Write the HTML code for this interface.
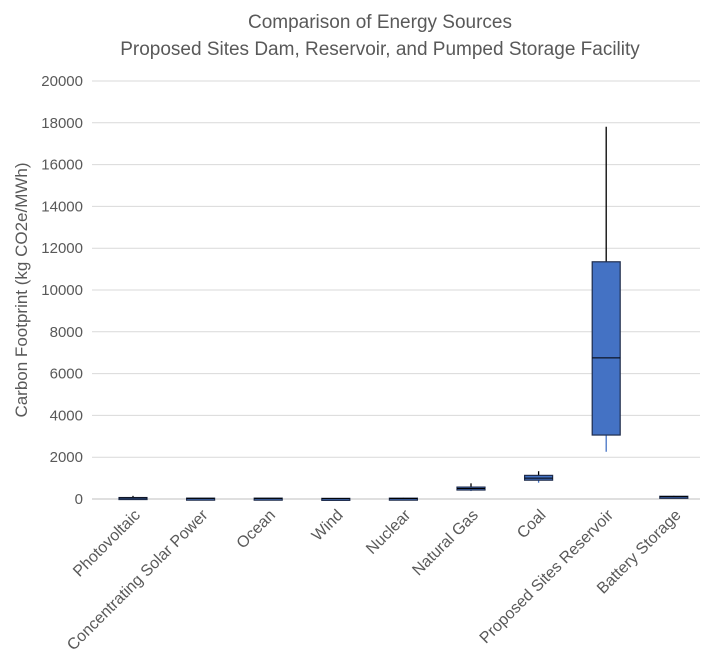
<!DOCTYPE html>
<html><head><meta charset="utf-8"><style>
body{margin:0;background:#fff;}
svg{display:block;font-family:"Liberation Sans",sans-serif;}
</style></head><body>
<svg id="chart" width="708" height="670">
<text x="380" y="28" text-anchor="middle" font-size="19" fill="#595959">Comparison of Energy Sources</text>
<text x="380" y="55" text-anchor="middle" font-size="19" fill="#595959">Proposed Sites Dam, Reservoir, and Pumped Storage Facility</text>
<text transform="translate(27,290) rotate(-90)" text-anchor="middle" font-size="17" fill="#595959">Carbon Footprint (kg CO2e/MWh)</text>
<g id="grid"></g><g id="boxes"></g><g id="xlabels"></g>
</svg>
<script>
const categories=["Photovoltaic","Concentrating Solar Power","Ocean","Wind","Nuclear","Natural Gas","Coal","Proposed Sites Reservoir","Battery Storage"];
const whiskerLow=[20,15,15,10,10,380,780,2260,90];
const q1=[30,20,20,15,15,430,900,3060,100];
const medians=[50,30,30,20,25,500,1000,6750,115];
const q3=[70,40,40,30,40,570,1130,11350,130];
const whiskerHigh=[150,50,50,40,60,750,1330,17810,150];
const yTicks=[0,2000,4000,6000,8000,10000,12000,14000,16000,18000,20000];
const NS='http://www.w3.org/2000/svg';
const y0=499,y1=81,yMax=20000,xL=92,xR=700,x0=133,step=67.6,bw=28;
const yS=v=>y0-(v/yMax)*(y0-y1);
const xS=i=>x0+i*step;
function mk(t,a,p){const e=document.createElementNS(NS,t);for(const k in a)e.setAttribute(k,a[k]);p.appendChild(e);return e;}
const grid=document.getElementById('grid');
yTicks.forEach(v=>{
  const l=mk('line',{x1:xL,x2:xR,y1:yS(v),y2:yS(v),stroke:v===0?'#bfbfbf':'#d9d9d9','stroke-width':1},grid);
  
  
  const t=mk('text',{x:83,y:yS(v)+5,'text-anchor':'end','font-size':15,fill:'#595959'},grid);
  t.textContent=v;
  
  
});
const boxes=document.getElementById('boxes');
categories.forEach((c,i)=>{
  const g=mk('g',{},boxes);
  
  
  const x=xS(i);
  mk('line',{x1:x,x2:x,y1:yS(whiskerHigh[i]),y2:yS(q3[i]),stroke:'#000','stroke-width':1.3},g);
  mk('line',{x1:x,x2:x,y1:yS(q1[i]),y2:yS(whiskerLow[i]),stroke:'#4472c4','stroke-width':1.3},g);
  const h=Math.max(yS(q1[i])-yS(q3[i]),2);
  mk('rect',{x:x-bw/2,y:yS(q3[i]),width:bw,height:h,fill:'#4472c4',stroke:'#1f2d4d','stroke-width':1.2},g);
  mk('line',{x1:x-bw/2,x2:x+bw/2,y1:yS(medians[i]),y2:yS(medians[i]),stroke:'#000','stroke-width':1},g);
});
const xl=document.getElementById('xlabels');
categories.forEach((c,i)=>{
  const t=mk('text',{transform:`translate(${xS(i)+8},${516}) rotate(-45)`,'text-anchor':'end','font-size':16,fill:'#595959'},xl);
  t.textContent=c;
  
  
});
</script>
</body></html>
